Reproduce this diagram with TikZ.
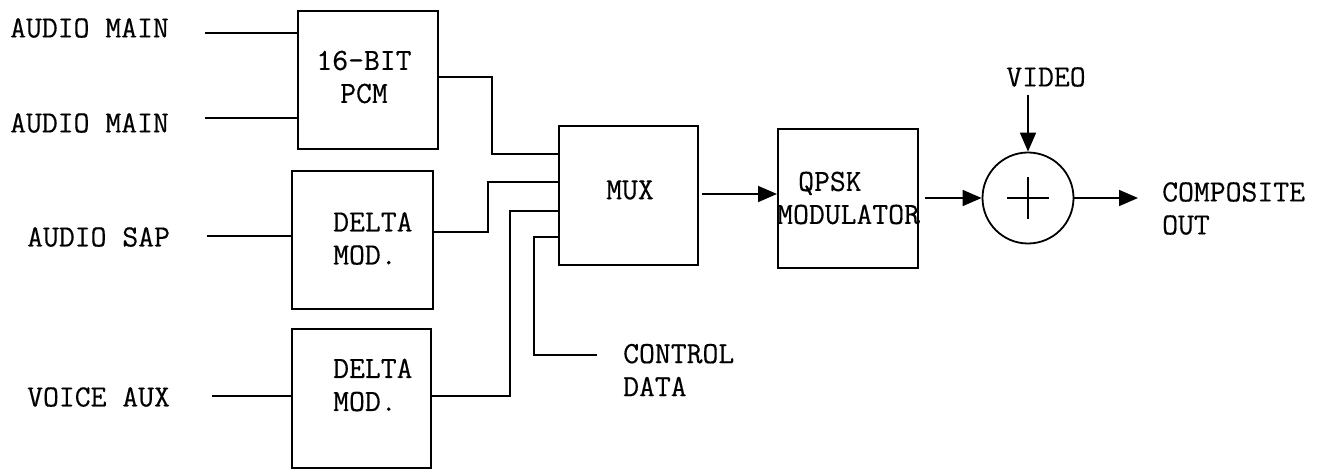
\documentclass[tikz,border=0pt]{standalone}
\usepackage{fontspec}
\newfontfamily\tw{Latin Modern Mono}[FakeBold=0.4]
\usetikzlibrary{arrows.meta}
\begin{document}
\begin{tikzpicture}[x=1pt,y=-1pt,
  wire/.style={line width=1.6pt},
  arr/.style={line width=1.6pt,-{Triangle[length=19pt,width=16pt]}},
  blk/.style={draw,line width=1.8pt,inner sep=0pt,anchor=north west},
  txt/.style={font=\tw\fontsize{30.8}{33}\selectfont,inner sep=0pt,align=left,anchor=west},
  txtc/.style={font=\tw\fontsize{30.8}{33}\selectfont,inner sep=0pt,align=center}]
\useasboundingbox[fill=white] (0,0) rectangle (1324,470);
% blocks
\node[blk,minimum width=140pt,minimum height=138pt] (pcm) at (297,10) {};
\node[blk,minimum width=141pt,minimum height=138pt] (d1) at (291,170) {};
\node[blk,minimum width=139pt,minimum height=139pt] (d2) at (291,328) {};
\node[blk,minimum width=139pt,minimum height=139pt] (mux) at (558,125) {};
\node[blk,minimum width=140pt,minimum height=139pt] (qpsk) at (777,128) {};
\node[draw,circle,line width=1.8pt,minimum size=91pt,inner sep=0pt] (sum) at (1028,198) {};
\draw[wire] ([xshift=-21pt]sum.center) -- ([xshift=21pt]sum.center);
\draw[wire] ([yshift=-21pt]sum.center) -- ([yshift=21pt]sum.center);
% block texts
\node[txtc] (tpcm) at (364,77) {16-BIT\\PCM};
\node[txt] (td1) at (333,238.5) {DELTA\\MOD.};
\node[txt] (td2) at (333,385) {DELTA\\MOD.};
\node[txtc] (tmux) at (630,190) {MUX};
\node[txt] (tqpsk) at (777,198) {\hspace*{21pt}QPSK\\MODULATOR};
% labels
\node[txt] (l1) at (10,28) {AUDIO MAIN};
\node[txt] (l2) at (10,123) {AUDIO MAIN};
\node[txt] (l3) at (27,237) {AUDIO SAP};
\node[txt] (l4) at (27,397) {VOICE AUX};
\node[txt] (lctl) at (623,370) {CONTROL\\DATA};
\node[txtc] (lvid) at (1046,77) {VIDEO};
\node[txt] (lout) at (1162,208.5) {COMPOSITE\\OUT};
% input coordinates
\coordinate (i1) at (205,33);
\coordinate (i2) at (205,118);
\coordinate (i3) at (207,236);
\coordinate (i4) at (212,396);
\coordinate (ctl) at (597,355);
\coordinate (vid) at (1028,95);
\coordinate (out) at (1138,198);
% inputs
\draw[wire] (i1) -- (pcm.west |- i1);
\draw[wire] (i2) -- (pcm.west |- i2);
\draw[wire] (i3) -- (d1.west |- i3);
\draw[wire] (i4) -- (d2.west |- i4);
% into mux
\draw[wire] (pcm.east |- 0,77) -- (492,77) |- (mux.west |- 0,154);
\draw[wire] (d1.east |- 0,232) -- (488,232) |- (mux.west |- 0,182);
\draw[wire] (d2.east |- 0,396) -- (510,396) |- (mux.west |- 0,211);
\draw[wire] (ctl) -- (534,355) |- (mux.west |- 0,237);
% signal chain
\draw[arr] ([xshift=3pt]mux.east |- 0,194) -- (qpsk.west |- 0,194);
\draw[arr] ([xshift=6pt]qpsk.east |- sum.west) -- (sum.west);
\draw[arr] (vid) -- (sum.north);
\draw[arr] (sum.east) -- (out);
\end{tikzpicture}
\end{document}
